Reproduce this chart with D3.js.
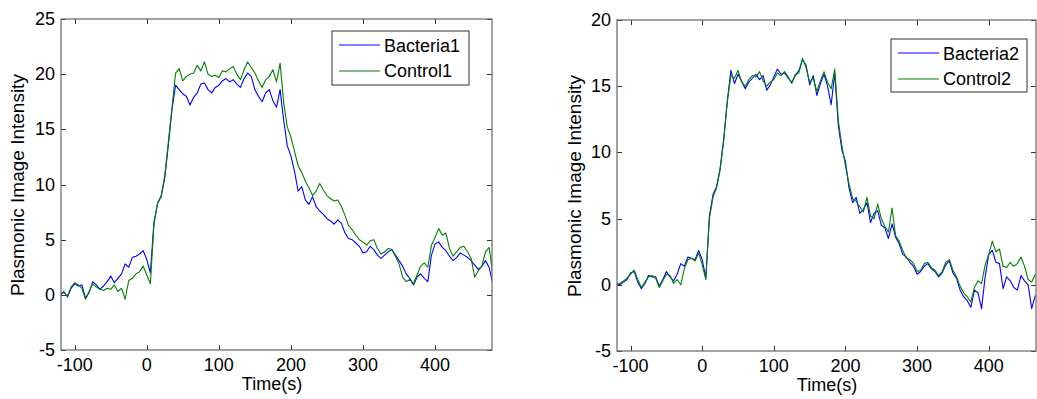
<!DOCTYPE html>
<meta charset="utf-8">
<style>
  body { margin: 0; background: #fff; }
  svg text { font-family: "Liberation Sans", Arial, sans-serif; fill: #000; }
  .frame { fill: none; stroke: #666; stroke-width: 1.2px; }
  .tick-line { stroke: #333; stroke-width: 1px; }
  .series { fill: none; stroke-width: 1.1px; stroke-linejoin: round; }
</style>
<svg width="1037" height="399"></svg>
<script src="https://cdn.jsdelivr.net/npm/d3@7"></script>
<script>

  // time grid (s), 5 s steps
  var time1 = d3.range(-120, 481, 5);
  var time2 = d3.range(-120, 466, 5);

  var bacteria1 = [0.0, 0.3, -0.2, 0.6, 1.0, 0.8, 0.9, -0.3, 0.2, 1.2, 0.9, 0.5, 0.8, 1.2, 1.7, 1.1, 1.5, 1.9, 2.8, 2.5,
    3.4, 3.5, 3.7, 4.0, 3.2, 2.0, 6.6, 8.3, 8.9, 10.6, 13.6, 16.8, 19.0, 18.6, 18.2, 18.0, 17.2, 17.9, 18.3, 19.1,
    19.2, 18.6, 18.3, 18.8, 19.0, 19.4, 19.6, 19.3, 19.5, 19.1, 18.8, 19.6, 20.1, 19.8, 18.6, 18.0, 17.5, 18.3, 18.6, 17.6,
    17.0, 18.6, 15.8, 13.5, 12.6, 11.2, 9.4, 9.8, 8.6, 8.2, 8.9, 8.0, 7.6, 7.3, 6.9, 6.7, 6.4, 6.8, 6.5, 5.6,
    5.1, 5.0, 4.7, 4.4, 3.8, 3.9, 4.4, 4.1, 3.6, 3.3, 3.6, 3.9, 4.1, 3.6, 3.1, 2.6, 1.9, 1.5, 0.9, 1.6,
    1.9, 1.5, 1.2, 3.6, 4.6, 4.8, 4.3, 4.0, 3.5, 3.1, 3.4, 3.8, 3.6, 3.4, 3.1, 2.7, 2.3, 2.6, 3.1, 2.5, 1.0];

  var control1 = [0.0, 0.2, -0.1, 0.7, 1.1, 0.9, 0.6, -0.4, 0.3, 1.0, 0.7, 0.5, 0.4, 0.6, 0.5, 0.9, 0.3, 0.6, -0.4, 1.3,
    1.5, 1.9, 2.1, 2.6, 1.8, 1.0, 6.4, 8.3, 9.0, 10.8, 13.9, 17.0, 20.1, 20.5, 19.4, 19.8, 20.0, 20.1, 20.8, 20.3,
    21.1, 20.0, 19.8, 19.9, 19.7, 20.3, 20.2, 20.5, 20.7, 20.0, 19.5, 20.4, 21.1, 20.6, 20.1, 19.4, 18.8, 19.5, 19.8, 20.4,
    19.3, 21.0, 17.4, 15.2, 14.3, 13.0, 11.7, 11.1, 10.3, 9.7, 9.0, 9.4, 10.1, 9.5, 9.0, 8.7, 8.5, 8.6, 8.0, 7.2,
    6.3, 5.9, 5.4, 5.0, 4.8, 4.5, 4.9, 5.0, 4.2, 3.7, 3.9, 4.2, 4.1, 3.5, 2.8, 1.6, 1.2, 1.4, 1.0, 1.8,
    2.6, 2.9, 2.5, 4.5, 5.2, 6.0, 5.4, 5.6, 4.2, 3.5, 3.9, 4.3, 4.4, 3.9, 3.3, 1.6, 2.2, 2.6, 3.9, 4.3, 1.9];

  var bacteria2 = [0.1, 0.0, 0.2, 0.4, 0.9, 1.0, 0.2, -0.3, 0.1, 0.7, 0.6, 0.6, -0.1, 0.4, 1.0, 0.6, 0.3, 0.8, 1.6, 1.4,
    2.1, 2.0, 1.9, 2.6, 1.9, 0.5, 5.2, 6.8, 7.4, 8.8, 11.0, 13.9, 16.2, 15.2, 15.9, 15.4, 14.8, 15.3, 15.6, 15.9,
    15.5, 15.8, 14.7, 15.1, 15.7, 16.3, 15.9, 16.0, 15.6, 15.3, 15.8, 16.2, 17.0, 16.6, 15.1, 15.8, 14.3, 15.2, 15.9, 15.0,
    13.6, 16.0, 12.0, 10.2, 9.3, 7.3, 6.2, 6.6, 5.4, 5.7, 6.2, 4.7, 5.4, 5.6, 4.5, 4.3, 3.5, 4.6, 3.6, 3.1,
    2.3, 2.1, 1.7, 1.4, 0.8, 1.0, 1.4, 1.6, 1.2, 1.0, 0.6, 0.9, 1.5, 1.8, 0.9, 0.5, -0.4, -0.9, -1.2, -1.7,
    -0.4, -0.6, -1.8, 0.6, 2.3, 2.6, 1.7, 1.6, -0.3, 0.6, 0.3, -0.2, -0.4, 0.7, 0.3, 0.0, -1.8, -0.8];

  var control2 = [0.0, 0.1, 0.3, 0.5, 0.8, 1.1, 0.4, -0.2, 0.2, 0.6, 0.7, 0.5, -0.2, 0.3, 0.8, 0.7, 0.1, 0.4, 0.0, 1.2,
    1.9, 2.0, 1.8, 2.4, 1.5, 0.4, 5.0, 6.6, 7.3, 8.7, 10.9, 13.8, 15.8, 15.6, 16.2, 15.3, 15.0, 15.5, 15.8, 15.7,
    16.1, 15.4, 15.0, 15.3, 15.5, 16.0, 15.8, 16.1, 15.7, 15.2, 15.9, 16.0, 17.1, 16.4, 15.3, 15.6, 14.6, 15.4, 16.1, 15.3,
    14.8, 16.3, 12.4, 10.5, 9.0, 7.6, 6.5, 6.3, 5.9, 5.5, 6.6, 5.2, 5.0, 6.1, 5.0, 4.4, 4.0, 5.8, 3.7, 3.3,
    2.6, 2.0, 1.9, 1.6, 1.0, 1.1, 1.6, 1.7, 1.3, 1.1, 0.7, 1.0, 1.7, 1.9, 1.1, 0.6, -0.1, -0.6, -0.9, -1.3,
    -0.2, 0.3, 0.1, 1.5, 2.3, 3.3, 2.5, 2.7, 1.4, 1.3, 1.7, 1.4, 1.6, 2.1, 1.4, 0.4, 0.2, 0.8];

  var xTicks = [-100, 0, 100, 200, 300, 400];
  var yTicks1 = [-5, 0, 5, 10, 15, 20, 25];
  var yTicks2 = [-5, 0, 5, 10, 15, 20];

  var svg = d3.select("svg");

  function panel(opt) {
    var x = d3.scaleLinear().domain(opt.xDomain).range([opt.left, opt.right]);
    var y = d3.scaleLinear().domain(opt.yDomain).range([opt.bottom, opt.top]);
    var g = svg.append("g");
    var clipId = "clip" + opt.id;

    g.append("clipPath").attr("id", clipId)
      .append("rect")
      .attr("x", opt.left).attr("y", opt.top)
      .attr("width", opt.right - opt.left).attr("height", opt.bottom - opt.top);

    var line = d3.line()
      .x(function (d) { return x(d[0]); })
      .y(function (d) { return y(d[1]); });

    var plot = g.append("g").attr("clip-path", "url(#" + clipId + ")");
    opt.series.forEach(function (s) {
      plot.append("path")
        .datum(d3.zip(opt.time, s.values))
        .attr("class", "series")
        .attr("stroke", s.color)
        .attr("d", line);
    });

    // ticks inside the box, on all four sides
    var tk = 5;
    g.selectAll(".xt").data(opt.xTicks).enter().append("path")
      .attr("class", "tick-line")
      .attr("d", function (d) {
        var px = Math.round(x(d)) + 0.5;
        return "M" + px + "," + opt.bottom + "v" + (-tk) + "M" + px + "," + opt.top + "v" + tk;
      });
    g.selectAll(".yt").data(opt.yTicks).enter().append("path")
      .attr("class", "tick-line")
      .attr("d", function (d) {
        var py = Math.round(y(d)) + 0.5;
        return "M" + opt.left + "," + py + "h" + tk + "M" + opt.right + "," + py + "h" + (-tk);
      });

    g.append("rect").attr("class", "frame")
      .attr("x", opt.left).attr("y", opt.top)
      .attr("width", opt.right - opt.left).attr("height", opt.bottom - opt.top);

    g.selectAll(".xl").data(opt.xTicks).enter().append("text")
      .attr("x", function (d) { return x(d); })
      .attr("y", opt.bottom + 21)
      .attr("text-anchor", "middle")
      .style("font-size", "18px")
      .text(function (d) { return d; });

    g.selectAll(".yl").data(opt.yTicks).enter().append("text")
      .attr("x", opt.left - 6)
      .attr("y", function (d) { return y(d) + 6; })
      .attr("text-anchor", "end")
      .style("font-size", "18px")
      .text(function (d) { return d; });

    g.append("text")
      .attr("x", opt.xLabelX)
      .attr("y", opt.bottom + 40)
      .attr("text-anchor", "middle")
      .style("font-size", "18px")
      .text("Time(s)");

    g.append("text")
      .attr("transform", "translate(" + opt.yLabelX + "," + opt.yLabelY + ") rotate(-90)")
      .attr("text-anchor", "middle")
      .style("font-size", "19px")
      .text("Plasmonic Image Intensity");

    // legend
    var L = opt.legend;
    var lg = g.append("g");
    lg.append("rect")
      .attr("x", L.x).attr("y", L.y).attr("width", L.w).attr("height", L.h)
      .attr("fill", "#fff").attr("stroke", "#333").attr("stroke-width", 1);
    opt.series.forEach(function (s, i) {
      var ry = L.y + 14 + i * 25.5;
      lg.append("line")
        .attr("x1", L.x + 7).attr("x2", L.x + 48)
        .attr("y1", Math.round(ry)).attr("y2", Math.round(ry))
        .attr("stroke", s.color).attr("stroke-width", 1);
      lg.append("text")
        .attr("x", L.x + 52).attr("y", ry + 6.5)
        .style("font-size", "18px")
        .text(s.name);
    });
  }

  panel({
    id: 1, left: 61, right: 492, top: 19, bottom: 350,
    xDomain: [-119, 479], yDomain: [-5, 25],
    xTicks: xTicks, yTicks: yTicks1, yLabelX: 24, yLabelY: 185, xLabelX: 272,
    time: time1,
    series: [
      { name: "Bacteria1", values: bacteria1, color: "#0000ff" },
      { name: "Control1", values: control1, color: "#008000" }
    ],
    legend: { x: 332, y: 31, w: 137, h: 54 }
  });

  panel({
    id: 2, left: 617, right: 1036, top: 20, bottom: 351,
    xDomain: [-119, 466], yDomain: [-5, 20],
    xTicks: xTicks, yTicks: yTicks2, yLabelX: 581, yLabelY: 186, xLabelX: 827,
    time: time2,
    series: [
      { name: "Bacteria2", values: bacteria2, color: "#0000ff" },
      { name: "Control2", values: control2, color: "#008000" }
    ],
    legend: { x: 891, y: 39, w: 136, h: 53 }
  });

</script>
